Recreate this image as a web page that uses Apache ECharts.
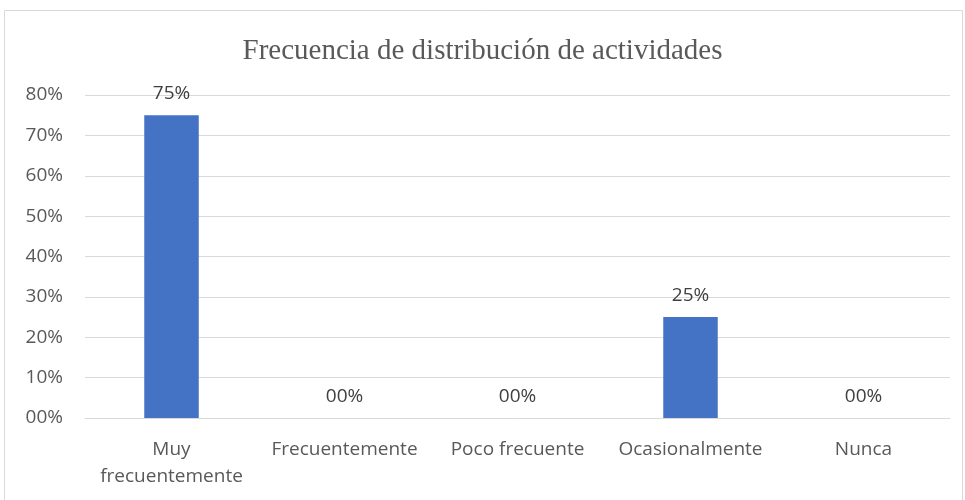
<!DOCTYPE html>
<html><head><meta charset="utf-8">
<script src="https://cdn.jsdelivr.net/npm/echarts@6/dist/echarts.min.js"></script>
<style>html,body{margin:0;padding:0;background:#fff}#c{width:965px;height:500px}</style>
</head><body><div id="c"></div>
<script>
const titleText = "Frecuencia de distribución de actividades";
const categories = ["Muy\nfrecuentemente", "Frecuentemente", "Poco frecuente", "Ocasionalmente", "Nunca"];
const values = [75, 0, 0, 25, 0];
const yTicks = [0, 10, 20, 30, 40, 50, 60, 70, 80];

const pad = v => (v < 10 ? "0" + v : "" + v) + "%";
const chart = echarts.init(document.getElementById('c'));
chart.setOption({
  animation: false,
  graphic: [{type: 'rect', shape: {x: 4.5, y: 10.5, width: 958, height: 495}, style: {fill: 'none', stroke: '#d9d9d9', lineWidth: 1}, silent: true}],
  title: {text: titleText, left: 'center', top: 32, textStyle: {fontFamily: 'Liberation Serif', fontSize: 29, fontWeight: 'normal', color: '#595959'}},
  grid: {left: 85, right: 15, top: 95, bottom: 82, containLabel: false},
  xAxis: {type: 'category', data: categories,
    axisLine: {lineStyle: {color: '#d9d9d9'}}, axisTick: {show: false},
    axisLabel: {fontFamily: 'Open Sans', fontSize: 19, color: '#595959', margin: 18, lineHeight: 27, interval: 0}},
  yAxis: {type: 'value', min: yTicks[0], max: yTicks[yTicks.length - 1], interval: 10,
    splitLine: {lineStyle: {color: '#d9d9d9'}}, axisLine: {show: false}, axisTick: {show: false},
    axisLabel: {formatter: pad, fontFamily: 'Open Sans', fontSize: 19, color: '#595959', margin: 22}},
  series: [{type: 'bar', data: values, barWidth: '31.5%', itemStyle: {color: '#4472C4'},
    label: {show: true, position: 'top', distance: 12, formatter: p => pad(p.value), fontFamily: 'Open Sans', fontSize: 19, color: '#404040'}}]
});
</script></body></html>
